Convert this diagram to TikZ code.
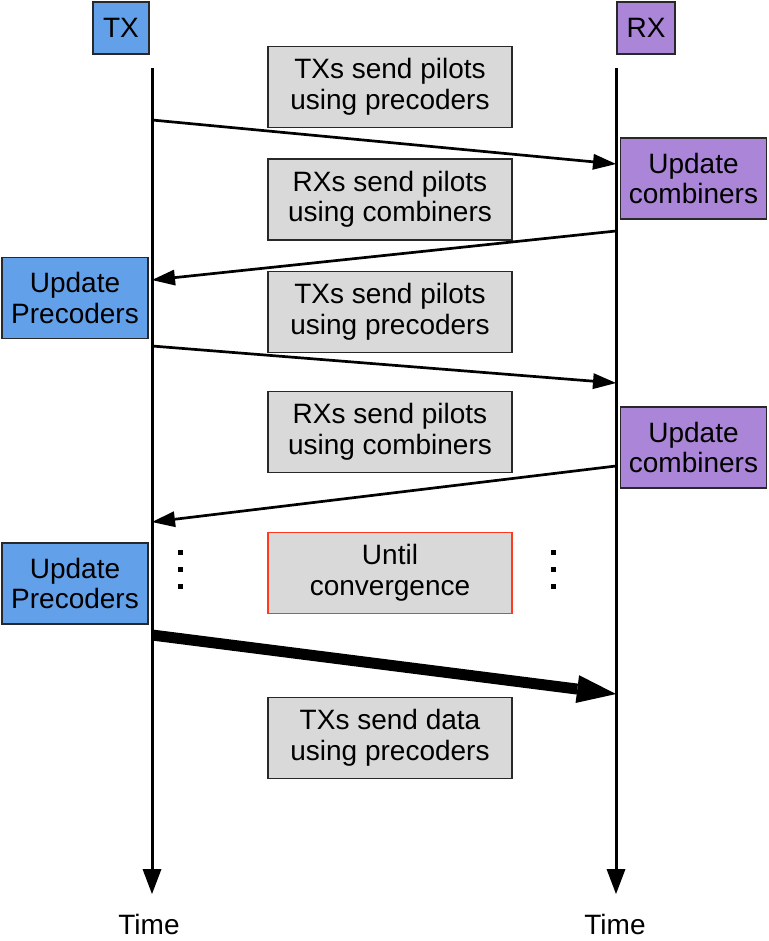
\documentclass[tikz,border=0pt]{standalone}
\usepackage{fontspec}
\setmainfont{Liberation Sans}
\usetikzlibrary{arrows.meta}
\definecolor{txblue}{RGB}{98,160,234}
\definecolor{rxpurple}{RGB}{171,133,216}
\definecolor{msggray}{RGB}{217,217,217}
\definecolor{boxline}{RGB}{40,40,40}
\definecolor{convred}{RGB}{255,58,30}
\tikzset{
  box/.style={draw=boxline, line width=1.3pt, align=center, inner sep=0pt,
    font=\fontsize{28}{30.5}\selectfont},
  msg/.style={box, fill=msggray, minimum width=244pt, minimum height=81pt},
  txbox/.style={box, fill=txblue},
  rxbox/.style={box, fill=rxpurple},
  update/.style={minimum width=146pt, minimum height=81pt},
  label/.style={inner sep=0pt, font=\fontsize{28}{30}\selectfont},
  lifeline/.style={line width=3pt, -{Triangle[length=25pt,width=19pt,line width=0pt]}},
  signal/.style={line width=2.7pt, -{Triangle[length=23pt,width=16pt,line width=0pt]}},
  datasignal/.style={line width=11pt, -{Triangle[length=39pt,width=28pt,line width=0pt]}},
  dotmark/.style={fill=black, inner sep=0pt, minimum size=5pt}
}
\begin{document}
\begin{tikzpicture}[x=1pt,y=-1pt]
\useasboundingbox (0,0) rectangle (768,941);

% headers
\node[txbox, minimum width=56pt, minimum height=52pt] (tx) at (121,28) {TX};
\node[rxbox, minimum width=58pt, minimum height=52pt] (rx) at (646,28) {RX};

% lifelines
\coordinate (txtop) at (152,68);
\coordinate (txbot) at (152,894);
\coordinate (rxtop) at (616,68);
\coordinate (rxbot) at (616,894);
\draw[lifeline] (txtop) -- (txbot);
\draw[lifeline] (rxtop) -- (rxbot);

% time labels
\node[label, anchor=base] (txtime) at (149,934) {Time};
\node[label, anchor=base] (rxtime) at (615,934) {Time};

% message descriptions
\node[msg] (m1) at (390,87) {TXs send pilots\\using precoders};
\node[msg] (m2) at (390,199.5) {RXs send pilots\\using combiners};
\node[msg] (m3) at (390,312) {TXs send pilots\\using precoders};
\node[msg] (m4) at (390,432) {RXs send pilots\\using combiners};
\node[msg, draw=convred] (m5) at (390,573) {Until\\convergence};
\node[msg] (m6) at (390,738) {TXs send data\\using precoders};

% update steps
\node[rxbox, update] (uc1) at (693.5,178.5) {Update\\combiners};
\node[rxbox, update] (uc2) at (693.5,447.5) {Update\\combiners};
\node[txbox, update] (up1) at (75,298) {Update\\Precoders};
\node[txbox, update] (up2) at (75,583.5) {Update\\Precoders};

% exchange points on the lifelines
\coordinate (s1) at (152,120);  \coordinate (e1) at (616,164);
\coordinate (s2) at (616,231);  \coordinate (e2) at (152,280);
\coordinate (s3) at (152,346);  \coordinate (e3) at (616,383);
\coordinate (s4) at (616,466);  \coordinate (e4) at (152,522);
\coordinate (s5) at (152,635);  \coordinate (e5) at (616,694);

\draw[signal] (s1) -- (e1);
\draw[signal] (s2) -- (e2);
\draw[signal] (s3) -- (e3);
\draw[signal] (s4) -- (e4);
\draw[datasignal] (s5) -- (e5);

% ellipsis dots
\node[dotmark] (dl1) at (180,552) {};
\node[dotmark] (dl2) at (180,569) {};
\node[dotmark] (dl3) at (180,586) {};
\node[dotmark] (dr1) at (553,552) {};
\node[dotmark] (dr2) at (553,569) {};
\node[dotmark] (dr3) at (553,586) {};
\end{tikzpicture}
\end{document}
